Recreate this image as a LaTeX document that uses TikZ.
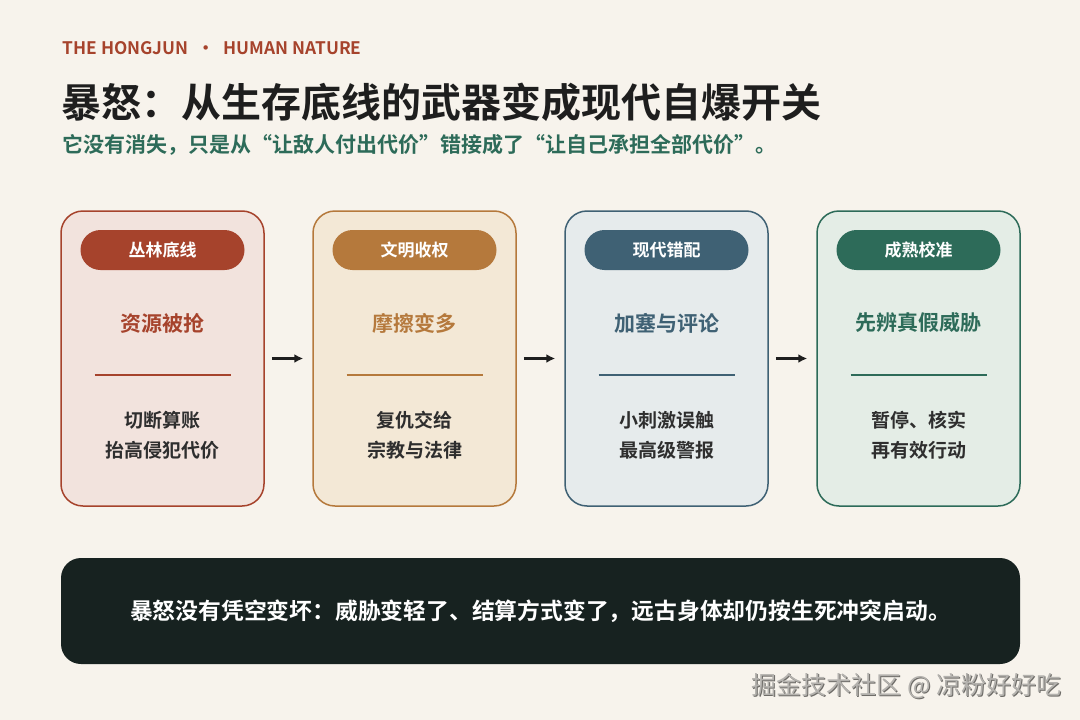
\documentclass[tikz,border=0pt]{standalone}
\usepackage{fontspec}
\setmainfont{Noto Sans CJK SC}[BoldFont={Noto Sans CJK SC Bold}]
\usetikzlibrary{arrows.meta}
\definecolor{bg}{HTML}{F7F3EC}
\definecolor{rust}{HTML}{A6432C}
\definecolor{ochre}{HTML}{B5793C}
\definecolor{slate}{HTML}{3F6174}
\definecolor{pine}{HTML}{2D6B59}
\definecolor{fillA}{HTML}{F2E3DD}
\definecolor{fillB}{HTML}{F3E8D6}
\definecolor{fillC}{HTML}{E6EBEC}
\definecolor{fillD}{HTML}{E4EDE6}
\definecolor{ink}{HTML}{1E1E1E}
\definecolor{body}{HTML}{2E2E2E}
\definecolor{bar}{HTML}{172220}
\definecolor{wm}{HTML}{B4B2AE}
\definecolor{wmshade}{HTML}{6E6C68}
\tikzset{
  card/.style={draw=#1, line width=1.5pt, rounded corners=22pt, minimum width=203pt, minimum height=295pt, inner sep=0pt},
  pill/.style={fill=#1, rounded corners=20pt, minimum width=164pt, minimum height=40pt, inner sep=0pt, text=white, font=\bfseries\fontsize{17}{19}\selectfont},
  head/.style={text=#1, font=\bfseries\fontsize{21}{25}\selectfont},
  bodytext/.style={text=body, font=\bfseries\fontsize{19}{30}\selectfont, align=center},
  flow/.style={-{Latex[length=9pt,width=9pt]}, line width=3pt, draw=ink, shorten <=7pt, shorten >=9pt}
}
\begin{document}
\begin{tikzpicture}[x=1pt,y=-1pt]
\fill[bg] (0,0) rectangle (1080,720);
\useasboundingbox (0,0) rectangle (1080,720);
\node[anchor=west, text=rust, font=\bfseries\fontsize{17.3}{19}\selectfont] (kicker) at (59,48) {THE HONGJUN\hspace{9pt}•\hspace{9pt}HUMAN NATURE};
\node[anchor=west, text=ink, font=\bfseries\fontsize{40}{46}\selectfont] (title) at (58,102) {暴怒：从生存底线的武器变成现代自爆开关};
\node[anchor=west, text=pine, font=\bfseries\fontsize{21}{24}\selectfont] (sub) at (59,145) {它没有消失，只是从“让敌人付出代价”错接成了“让自己承担全部代价”。};

\foreach \i/\x/\c/\f/\p/\h/\a/\b in {
 1/162.5/rust/fillA/丛林底线/资源被抢/切断算账/抬高侵犯代价,
 2/414.5/ochre/fillB/文明收权/摩擦变多/复仇交给/宗教与法律,
 3/666.5/slate/fillC/现代错配/加塞与评论/小刺激误触/最高级警报,
 4/918.5/pine/fillD/成熟校准/先辨真假威胁/暂停、核实/再有效行动}{
  \node[card=\c, fill=\f] (card\i) at (\x,358.5) {};
  \node[pill=\c] (pill\i) at (\x,250) {\p};
  \node[head=\c] (head\i) at (\x,323) {\h};
  \coordinate (la\i) at (\x-68,375);
  \coordinate (lb\i) at (\x+68,375);
  \draw[\c, line width=1.5pt] (la\i) -- (lb\i);
  \node[bodytext] (body\i) at (\x,435) {\a\\\b};
}
\draw[flow] (card1.east) -- (card2.west);
\draw[flow] (card2.east) -- (card3.west);
\draw[flow] (card3.east) -- (card4.west);

\node[fill=bar, rounded corners=20pt, minimum width=959pt, minimum height=106pt, inner sep=0pt] (barbox) at (540.5,611) {};
\node[text=white, font=\bfseries\fontsize{22.8}{26}\selectfont] (bartext) at (barbox.center) {暴怒没有凭空变坏：威胁变轻了、结算方式变了，远古身体却仍按生死冲突启动。};

\node[anchor=west, text=wmshade, font=\fontsize{25}{28}\selectfont] (markshade) at (749.2,687.2) {掘金技术社区 @ 凉粉好好吃};
\node[anchor=west, text=wm, font=\fontsize{25}{28}\selectfont] (mark) at (748,686) {掘金技术社区 @ 凉粉好好吃};
\end{tikzpicture}
\end{document}
